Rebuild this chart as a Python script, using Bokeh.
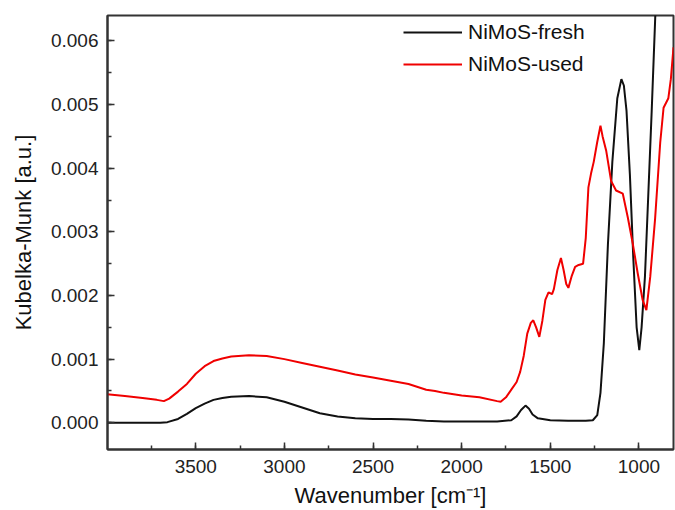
from bokeh.plotting import figure
from bokeh.models import Range1d, SingleIntervalTicker, PrintfTickFormatter
from bokeh.embed import file_html
from bokeh.resources import INLINE

# ---- data ----
fresh_x = [4000, 3800, 3700, 3660, 3600, 3550, 3500, 3450, 3400, 3350, 3300, 3200,
           3100, 3000, 2900, 2800, 2700, 2600, 2500, 2400, 2300, 2200, 2100, 2000,
           1900, 1800, 1720, 1690, 1665, 1640, 1620, 1600, 1570, 1500, 1400, 1300,
           1260, 1235, 1217, 1198, 1175, 1150, 1122, 1099, 1085, 1070, 1051, 1032,
           1013, 998, 985, 966, 947, 928, 909, 880, 850, 805]
fresh_y = [0.0, 0.0, 0.0, 0.00001, 0.00006, 0.00014, 0.00023, 0.00030, 0.00036, 0.00039,
           0.00041, 0.00042, 0.00040, 0.00033, 0.00024, 0.00015, 0.00010, 0.00007,
           0.00006, 0.00006, 0.00005, 0.00003, 0.00002, 0.00002, 0.00002, 0.00002,
           0.00004, 0.00010, 0.00020, 0.00027, 0.00022, 0.00013, 0.00007, 0.00004,
           0.00003, 0.00003, 0.00004, 0.00012, 0.00047, 0.00125, 0.0028, 0.0041,
           0.0051, 0.0054, 0.0053, 0.0049, 0.0039, 0.0026, 0.0015, 0.00114, 0.0015,
           0.0023, 0.0036, 0.0049, 0.0063, 0.0085, 0.0105, 0.0135]

used_x = [4000, 3900, 3800, 3720, 3680, 3650, 3600, 3550, 3500, 3450, 3400, 3350,
          3300, 3200, 3100, 3000, 2900, 2800, 2700, 2600, 2500, 2400, 2300, 2200,
          2150, 2100, 2000, 1900, 1800, 1780, 1750, 1720, 1690, 1670, 1650, 1630,
          1610, 1596, 1580, 1562, 1545, 1528, 1510, 1490, 1480, 1460, 1440, 1425,
          1410, 1398, 1380, 1360, 1340, 1315, 1300, 1285, 1270, 1255, 1236, 1217,
          1205, 1185, 1157, 1129, 1091, 1063, 1035, 1007, 979, 958, 936, 909, 880,
          861, 834, 820, 805]
used_y = [0.00045, 0.00042, 0.00039, 0.00036, 0.00034, 0.00038, 0.00049, 0.00061,
          0.00077, 0.00089, 0.00097, 0.00101, 0.00104, 0.00106, 0.00105, 0.00100,
          0.00094, 0.00088, 0.00082, 0.00076, 0.00071, 0.00066, 0.00061, 0.00052,
          0.00050, 0.00047, 0.00043, 0.00040, 0.00034, 0.00033, 0.00040, 0.00052,
          0.00064, 0.00080, 0.00105, 0.00140, 0.00157, 0.00161, 0.00150, 0.00135,
          0.00160, 0.00193, 0.00205, 0.00202, 0.00210, 0.00240, 0.00259, 0.00240,
          0.00218, 0.00212, 0.00230, 0.00245, 0.00248, 0.00250, 0.00290, 0.00370,
          0.00392, 0.00410, 0.00440, 0.00467, 0.00450, 0.00428, 0.00380, 0.00365,
          0.00360, 0.00323, 0.00282, 0.00235, 0.00193, 0.00177, 0.00230, 0.00320,
          0.00440, 0.00495, 0.00510, 0.00540, 0.00590]

x_major_interval = 500
y_major_interval = 0.001

FONT = "Liberation Sans"

p = figure(width=675, height=510, output_backend="svg", toolbar_location=None,
           x_range=Range1d(3998, 805), y_range=Range1d(-0.00042, 0.0064),
           min_border_left=107, min_border_right=2, min_border_top=15,
           min_border_bottom=60, background_fill_color="white",
           border_fill_color="white")

p.grid.visible = False
p.outline_line_color = "#333333"
p.outline_line_width = 2

p.xaxis.ticker = SingleIntervalTicker(interval=x_major_interval, num_minor_ticks=2)
p.yaxis.ticker = SingleIntervalTicker(interval=y_major_interval, num_minor_ticks=2)
p.yaxis.formatter = PrintfTickFormatter(format="%.3f")

for ax in (p.xaxis, p.yaxis):
    ax.axis_line_width = 2
    ax.axis_line_color = "#333333"
    ax.major_tick_in = 7
    ax.major_tick_out = 0
    ax.minor_tick_in = 4
    ax.minor_tick_out = 0
    ax.major_tick_line_width = 1.5
    ax.minor_tick_line_width = 1.5
    ax.major_tick_line_color = "#333333"
    ax.minor_tick_line_color = "#333333"
    ax.major_label_text_font = FONT
    ax.major_label_text_font_size = "19px"
    ax.major_label_text_color = "#222222"
    ax.axis_label_text_font = FONT
    ax.axis_label_text_font_size = "22px"
    ax.axis_label_text_font_style = "normal"
    ax.axis_label_text_color = "#111111"

p.xaxis.axis_label = "Wavenumber [cm\u207b\u00b9]"
p.yaxis.axis_label = "Kubelka-Munk [a.u.]"
p.xaxis.major_label_standoff = 10
p.xaxis.axis_label_standoff = 7
p.yaxis.major_label_standoff = 9
p.yaxis.axis_label_standoff = 12

p.line(fresh_x, fresh_y, line_color="#111111", line_width=2, legend_label="NiMoS-fresh")
p.line(used_x, used_y, line_color="#f00000", line_width=2, legend_label="NiMoS-used")

lg = p.legend[0]
lg.location = (296, 373)
lg.padding = 0
lg.margin = 0
lg.border_line_color = None
lg.background_fill_alpha = 0
lg.glyph_width = 59
lg.glyph_height = 24
lg.label_height = 24
lg.label_standoff = 6
lg.spacing = 8
lg.label_text_font = FONT
lg.label_text_font_size = "21px"
lg.label_text_color = "#111111"

open("out.html", "w").write(file_html(p, INLINE))
